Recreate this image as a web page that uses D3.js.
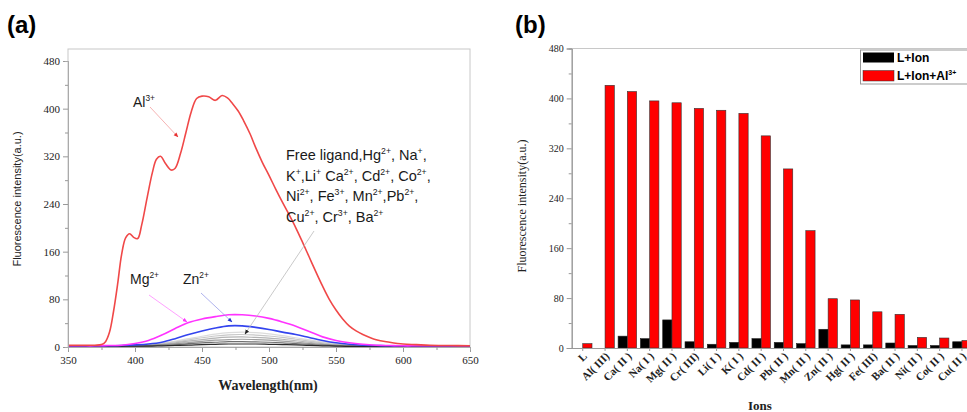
<!DOCTYPE html>
<html>
<head>
<meta charset="utf-8">
<script src="https://cdn.jsdelivr.net/npm/d3@7/dist/d3.min.js"></script>
<style>
  body { margin: 0; background: #fff; }
  text { font-family: "Liberation Sans", Arial, sans-serif; }
</style>
</head>
<body>
<svg id="chart" width="967" height="412"></svg>
<script>
// ---------- panel (a) data : emission spectra ----------
const wl = [350,360,370,380,390,400,410,420,430,440,450,460,470,480,490,500,
            510,520,530,540,550,560,570,580,590,600,610,620,630,640,650];

const alWl  = [350,360,370,375,378,381,384,387,390,393,396,399,402,405,409,413,416,419,423,427,
               430,434,438,442,446,450,455,460,465,469,473,477,481,486,490,495,500,505,510,515,
               520,525,530,535,540,545,550,555,560,565,570,580,590,600,610,620,635,650];
const alVal = [3,3,3,4,9,25,60,105,155,183,190,184,182,205,250,293,315,320,307,297,
               300,325,360,395,417,421,420,414,422,418,408,396,380,357,335,310,288,265,243,222,
               200,176,151,126,102,80,62,47,35,27,21,12,8,5,4,3,2.5,2];

const mgVal = [2,2,2,2.5,3,6,11,20,31,41,47,51,54,54,52,48,42,35,26,17,11,7,4.5,3,2.5,2,2,2,2,2,2];
const znVal = [2,2,2,2,2.5,3.5,5,8,14,21,27,32,35.5,35.5,33,29.5,25,21,16,11,7,4.5,3,2.5,2,2,2,2,2,2,2];

// other ions (grey family) + free ligand (dark)
const grey1 = [1.5,1.5,1.5,1.5,2,2.5,4,6.5,10,14,18,21.5,24,25,24,22,19,15.5,12,8.5,5.5,3.5,2.5,2,1.5,1.5,1.5,1.5,1.5,1.5,1.5];
const grey2 = [1.5,1.5,1.5,1.5,2,2.5,3.5,5.5,8.5,12,15.5,18.5,20.5,21,20,18.5,16,13,10,7,4.5,3,2,1.5,1.5,1.5,1.5,1.5,1.5,1.5,1.5];
const grey3 = [1.5,1.5,1.5,1.5,1.5,2,3,4.5,7,10,12.5,15,16.5,17,16,15,13,10.5,8,5.5,3.5,2.5,2,1.5,1.5,1.5,1.5,1.5,1.5,1.5,1.5];
const grey4 = [1.5,1.5,1.5,1.5,1.5,2,2.5,4,5.5,7.5,9.5,11.5,12.5,13,12.5,11.5,10,8,6,4.5,3,2,1.5,1.5,1.5,1.5,1.5,1.5,1.5,1.5,1.5];
const grey5 = [1,1,1,1,1.5,1.5,2,3,4,5.5,7,8,9,9,8.5,8,7,5.5,4.5,3,2,1.5,1,1,1,1,1,1,1,1,1];
const grey6 = [1,1,1,1,1,1.5,1.5,2,2.5,3,4,4.5,5,5,5,4.5,4,3.5,2.5,2,1.5,1,1,1,1,1,1,1,1,1,1];

const xTicksA = [350,400,450,500,550,600,650];
const yTicks  = [0,80,160,240,320,400,480];

// ---------- panel (b) data : bar chart ----------
const ions     = ["L","Al( III)","Ca( II )","Na( I )","Mg( II )","Cr( III)","Li( I )","K( I )","Cd( II )",
                  "Pb( II )","Mn( II )","Zn( II )","Hg( II )","Fe( III)","Ba( II )","Ni( II )","Co( II )","Cu( II )"];
const ionOnly  = [0,0,19,15,45,10,6,9,15,9,7,30,5,5,8,4,4,10];
const ionPlusAl= [7,421,411,396,393,384,381,376,340,287,188,79,77,58,54,17,16,12];

const SERIF = '"Liberation Serif", "Times New Roman", serif';
const svg = d3.select("#chart");

// ================= panel (a) =================
const xa = d3.scaleLinear().domain([350, 650]).range([68, 470]);
const ya = d3.scaleLinear().domain([0, 480]).range([347, 61]);

svg.append("text").attr("x", 7).attr("y", 33)
   .style("font-size", "24px").style("font-weight", "bold").text("(a)");

// frame
svg.append("rect").attr("x", 68).attr("y", 49).attr("width", 402).attr("height", 298)
   .attr("fill", "none").attr("stroke", "#c8c8c8").attr("stroke-width", 1);

const line = (xs, ys) => d3.line()
  .x((d, i) => xa(xs[i]))
  .y(d => ya(d))
  .curve(d3.curveCatmullRom)(ys);

const greys = [[grey1,"#dcdcdc"],[grey2,"#c8c8c8"],[grey3,"#b4b4b4"],[grey4,"#a0a0a0"],[grey5,"#707070"],[grey6,"#2a2a2a"]];
greys.forEach(g => {
  svg.append("path").attr("d", line(wl, g[0])).attr("fill", "none")
     .attr("stroke", g[1]).attr("stroke-width", 1.2);
});
svg.append("path").attr("d", line(wl, znVal)).attr("fill", "none").attr("stroke", "#3344ee").attr("stroke-width", 1.6);
svg.append("path").attr("d", line(wl, mgVal)).attr("fill", "none").attr("stroke", "#ff33ff").attr("stroke-width", 1.6);
svg.append("path").attr("d", line(alWl, alVal)).attr("fill", "none").attr("stroke", "#f04848").attr("stroke-width", 1.6);

// axes
const axA = svg.append("g");
axA.append("g").attr("transform", "translate(68,0)")
  .call(d3.axisLeft(ya).tickValues(yTicks).tickSize(5).tickPadding(3));
axA.append("g").attr("transform", "translate(68,0)")
  .call(d3.axisLeft(ya).tickValues([40,120,200,280,360,440]).tickSize(3).tickFormat(""));
axA.append("g").attr("transform", "translate(0,347)")
  .call(d3.axisBottom(xa).tickValues(xTicksA).tickSize(5).tickPadding(4));
axA.append("g").attr("transform", "translate(0,347)")
  .call(d3.axisBottom(xa).tickValues([375,425,475,525,575,625]).tickSize(3).tickFormat(""));
axA.selectAll(".domain").attr("stroke", "#aaa");
axA.selectAll(".tick line").attr("stroke", "#999");
axA.selectAll(".tick text").filter(function() { return this.textContent === ""; }).remove();
axA.selectAll(".tick text").style("font-family", SERIF).style("font-size", "11px").attr("fill", "#222");

svg.append("text").attr("x", 268).attr("y", 390)
   .attr("text-anchor", "middle").style("font-family", SERIF).style("font-size", "14px").style("font-weight", "bold")
   .attr("fill", "#222").text("Wavelength(nm)");
svg.append("text").attr("transform", "translate(21,199) rotate(-90)")
   .attr("text-anchor", "middle").style("font-size", "11px").attr("fill", "#222")
   .text("Fluorescence intensity(a.u.)");

// arrow markers
const defs = svg.append("defs");
[["red","#e83030"],["mag","#ff33ff"],["blue","#2233cc"],["grey","#222"]].forEach(m => {
  defs.append("marker").attr("id", "arr-" + m[0]).attr("viewBox", "0 0 10 10")
    .attr("refX", 9).attr("refY", 5).attr("markerWidth", 6).attr("markerHeight", 6)
    .attr("orient", "auto")
    .append("path").attr("d", "M0,1 L10,5 L0,9 z").attr("fill", m[1]);
});
const arrow = (x1, y1, x2, y2, col, id) =>
  svg.append("line").attr("x1", x1).attr("y1", y1).attr("x2", x2).attr("y2", y2)
     .attr("stroke", col).attr("stroke-width", 0.8).attr("marker-end", "url(#arr-" + id + ")");

arrow(150, 107, 178, 137, "#f2a0a0", "red");
arrow(149, 295, 187, 322, "#ff88ff", "mag");
arrow(201, 293, 232, 322, "#9aa0e8", "blue");
arrow(314, 231, 245, 334, "#bbbbbb", "grey");

// text with superscripts: strings are normal runs, {sup} objects are raised
function richText(x, y, parts, size) {
  const t = svg.append("text").attr("x", x).attr("y", y)
    .style("font-size", size + "px").attr("fill", "#1a1a1a");
  let raised = false;
  parts.forEach(p => {
    if (typeof p === "string") {
      const s = t.append("tspan").text(p);
      if (raised) { s.attr("dy", size * 0.4); raised = false; }
    } else {
      t.append("tspan").attr("dy", -size * 0.4).style("font-size", (size * 0.6) + "px").text(p.sup);
      raised = true;
    }
  });
  return t;
}

richText(133, 107, ["Al", {sup: "3+"}], 14);
richText(130, 284, ["Mg", {sup: "2+"}], 14);
richText(183, 284, ["Zn", {sup: "2+"}], 14);
richText(286, 160, ["Free ligand,Hg", {sup: "2+"}, ", Na", {sup: "+"}, ","], 14.5);
richText(286, 181, ["K", {sup: "+"}, ",Li", {sup: "+"}, " Ca", {sup: "2+"}, ", Cd", {sup: "2+"}, ", Co", {sup: "2+"}, ","], 14.5);
richText(286, 201, ["Ni", {sup: "2+"}, ", Fe", {sup: "3+"}, ", Mn", {sup: "2+"}, ",Pb", {sup: "2+"}, ","], 14.5);
richText(286, 222, ["Cu", {sup: "2+"}, ", Cr", {sup: "3+"}, ", Ba", {sup: "2+"}], 14.5);

// ================= panel (b) =================
const xb = d3.scaleBand().domain(ions).range([571.7, 973]).paddingInner(0.17).paddingOuter(0.08);
const xs = d3.scaleBand().domain(["ion", "al"]).range([0, xb.bandwidth()]);
const yb = d3.scaleLinear().domain([0, 480]).range([348, 48.5]);

svg.append("text").attr("x", 515).attr("y", 33)
   .style("font-size", "24px").style("font-weight", "bold").text("(b)");

svg.append("line").attr("x1", 571.7).attr("x2", 967).attr("y1", 48.5).attr("y2", 48.5)
   .attr("stroke", "#c8c8c8");

const groups = svg.append("g").selectAll("g").data(ions).join("g")
  .attr("transform", d => "translate(" + xb(d) + ",0)");
groups.append("rect")
  .attr("x", xs("ion")).attr("width", xs.bandwidth())
  .attr("y", (d, i) => yb(ionOnly[i])).attr("height", (d, i) => yb(0) - yb(ionOnly[i]))
  .attr("fill", "#000").attr("stroke", "#222").attr("stroke-width", 0.6);
groups.append("rect")
  .attr("x", xs("al")).attr("width", xs.bandwidth())
  .attr("y", (d, i) => yb(ionPlusAl[i])).attr("height", (d, i) => yb(0) - yb(ionPlusAl[i]))
  .attr("fill", "#ff0000").attr("stroke", "#333").attr("stroke-width", 0.6);

const axB = svg.append("g");
axB.append("g").attr("transform", "translate(571.7,0)")
  .call(d3.axisLeft(yb).tickValues(yTicks).tickSize(5).tickPadding(3));
axB.append("g").attr("transform", "translate(571.7,0)")
  .call(d3.axisLeft(yb).tickValues([40,120,200,280,360,440]).tickSize(3).tickFormat(""));
const xAxB = axB.append("g").attr("transform", "translate(0,348)")
  .call(d3.axisBottom(xb).tickSize(3).tickFormat(""));
xAxB.select(".domain").attr("d", "M571.7,0.5H967");
axB.selectAll(".domain").attr("stroke", "#999");
axB.selectAll(".tick line").attr("stroke", "#999");
axB.selectAll(".tick text").filter(function() { return this.textContent === ""; }).remove();
axB.selectAll(".tick text").style("font-family", SERIF).style("font-size", "10px").attr("fill", "#222");

svg.append("g").selectAll("text").data(ions).join("text")
  .attr("transform", d => "translate(" + (xb(d) + xb.bandwidth() / 2 + 5) + ",357) rotate(-45)")
  .attr("text-anchor", "end").style("font-family", SERIF).style("font-size", "11px").style("font-weight", "bold")
  .attr("fill", "#222").text(d => d);

svg.append("text").attr("x", 760).attr("y", 410)
   .attr("text-anchor", "middle").style("font-family", SERIF).style("font-size", "13px").style("font-weight", "bold")
   .attr("fill", "#222").text("Ions");
svg.append("text").attr("transform", "translate(526,206) rotate(-90)")
   .attr("text-anchor", "middle").style("font-family", SERIF).style("font-size", "12px").attr("fill", "#222")
   .text("Fluorescence intensity(a.u.)");

// legend
const lg = svg.append("g");
lg.append("rect").attr("x", 860.5).attr("y", 50).attr("width", 120).attr("height", 34)
  .attr("fill", "#fff").attr("stroke", "#999");
lg.append("rect").attr("x", 863).attr("y", 52.5).attr("width", 31).attr("height", 10).attr("fill", "#000");
lg.append("rect").attr("x", 863).attr("y", 70.5).attr("width", 31).attr("height", 10.5).attr("fill", "#ff0000")
  .attr("stroke", "#333").attr("stroke-width", 0.5);
lg.append("text").attr("x", 897).attr("y", 62).style("font-size", "12px").style("font-weight", "bold")
  .text("L+Ion");
const lt = lg.append("text").attr("x", 897).attr("y", 80).style("font-size", "12px").style("font-weight", "bold");
lt.append("tspan").text("L+Ion+Al");
lt.append("tspan").attr("dy", -5).style("font-size", "7px").text("3+");
</script>
</body>
</html>
